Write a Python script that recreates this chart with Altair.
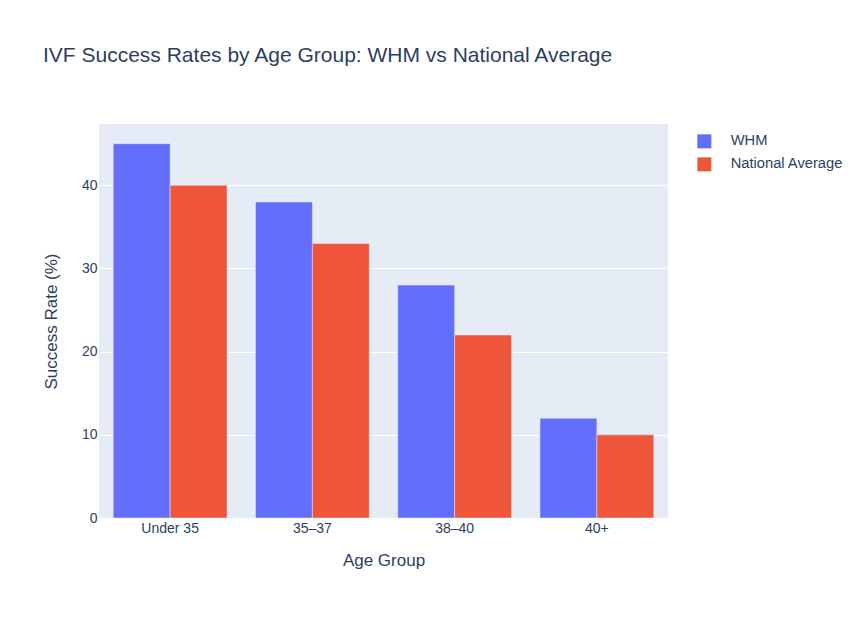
import altair as alt
import pandas as pd

groups = ["Under 35", "35–37", "38–40", "40+"]
whm = [45, 38, 28, 12]
national = [40, 33, 22, 10]
series = ["WHM", "National Average"]
colors = ["#636EFA", "#EF553B"]

rows = []
for g, a, b in zip(groups, whm, national):
    rows.append({"Age Group": g, "Series": "WHM", "Rate": a})
    rows.append({"Age Group": g, "Series": "National Average", "Rate": b})
df = pd.DataFrame(rows)

font = "Liberation Sans"
txt = "#2a3f5f"

chart = alt.Chart(df).mark_bar(stroke="#E5ECF6", strokeWidth=0.5).encode(
    x=alt.X("Age Group:N", sort=groups,
            scale=alt.Scale(paddingInner=0.2, paddingOuter=0.1),
            axis=alt.Axis(title="Age Group", labelAngle=0, ticks=False, domain=False,
                          grid=False, labelFontSize=14, labelColor=txt, labelFont=font,
                          labelPadding=3, titleFontSize=17, titleColor=txt, titleFont=font,
                          titleFontWeight="normal", titlePadding=17)),
    xOffset=alt.XOffset("Series:N", sort=series, scale=alt.Scale(domain=series, paddingInner=0, paddingOuter=0)),
    y=alt.Y("Rate:Q", scale=alt.Scale(domain=[0, 47.37], nice=False, zero=True),
            axis=alt.Axis(title="Success Rate (%)", values=[0, 10, 20, 30, 40], ticks=False,
                          domain=False, gridColor="white", gridWidth=1,
                          labelFontSize=14, labelColor=txt, labelFont=font, labelPadding=2,
                          titleFontSize=17, titleColor=txt, titleFont=font,
                          titleFontWeight="normal", titlePadding=21)),
    color=alt.Color("Series:N", sort=series,
                    scale=alt.Scale(domain=series, range=colors),
                    legend=alt.Legend(title=None, orient="none", legendX=598, legendY=10,
                                      padding=0, symbolType="square", symbolSize=196,
                                      symbolStrokeWidth=0,
                                      labelFontSize=14.7, labelColor=txt, labelFont=font,
                                      labelOffset=19, rowPadding=7)),
).properties(
    width=569,
    height=394,
    title=alt.TitleParams("IVF Success Rates by Age Group: WHM vs National Average",
                          anchor="start", frame="group", dx=-56, offset=58,
                          fontSize=21, font=font, fontWeight="normal", color=txt),
    autosize=alt.AutoSizeParams(type="none"),
    padding={"left": 91, "top": 116, "right": 188, "bottom": 92},
).configure(background="white").configure_view(fill="#E5ECF6", strokeWidth=0)

chart.save("out.html", embed_options={"renderer": "svg", "actions": False})
